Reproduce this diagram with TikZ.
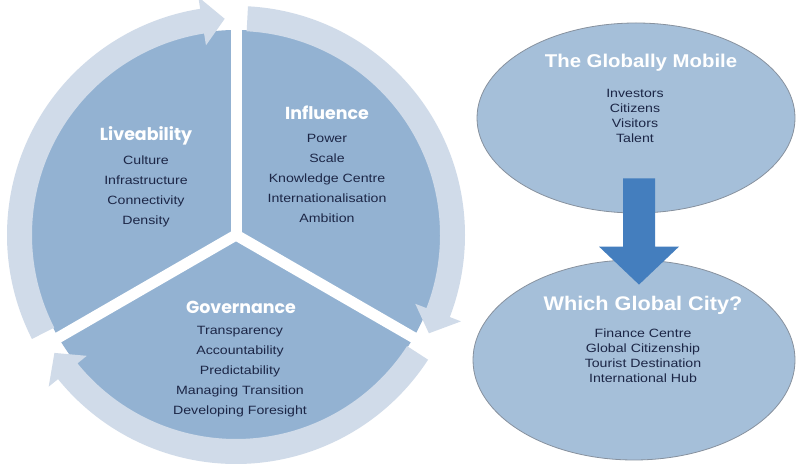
\documentclass[tikz,border=0pt]{standalone}
\usepackage{fontspec}
\usetikzlibrary{calc,shapes.geometric}
\newfontfamily\itemfont{Liberation Sans}[FakeStretch=1.18]
\newfontfamily\headfont{Liberation Sans}[FakeStretch=1.1]
\newfontfamily\titlefont{Poppins}
\definecolor{piec}{RGB}{147,178,210}
\definecolor{ringc}{RGB}{208,219,233}
\definecolor{ellc}{RGB}{165,191,217}
\definecolor{ellline}{RGB}{135,145,158}
\definecolor{arrc}{RGB}{68,126,190}
\definecolor{txtc}{RGB}{28,38,70}
\newcommand\ringpiece[2]{% #1 start angle, #2 tip angle
  \pgfmathsetmacro\myrb{#2+6}
  \fill[ringarrow] ($(C)+(#1:229pt)$) arc[start angle=#1, end angle=\myrb, radius=229pt]
    -- ($(C)+(\myrb:241pt)$) -- ($(C)+(#2:216.5pt)$) -- ($(C)+(\myrb:192pt)$)
    -- ($(C)+(\myrb:204pt)$) arc[start angle=\myrb, end angle=#1, radius=204pt] -- cycle;}
\begin{document}
\begin{tikzpicture}[x=1pt,y=1pt,
  pietitle/.style={text=white, font=\titlefont\bfseries\fontsize{17.4}{19}\selectfont, inner sep=0pt},
  pieitems/.style={text=txtc, align=center, font=\itemfont\fontsize{12}{20}\selectfont, inner sep=0pt},
  elltitle/.style={text=white, font=\headfont\bfseries\fontsize{#1}{22}\selectfont, inner sep=0pt},
  ellitems/.style={text=txtc, align=center, font=\itemfont\fontsize{12}{15}\selectfont, inner sep=0pt},
  blob/.style={ellipse, fill=ellc, draw=ellline, line width=0.8pt, inner sep=0pt},
  ringarrow/.style={fill=ringc},
  gapline/.style={draw=white, line width=11pt}]
\useasboundingbox (0,0) rectangle (797,468);
\fill[white] (0,0) rectangle (797,468);
% cycle pie
\coordinate (C) at (236,233);
\fill[piec] (C) circle[radius=205pt];
\draw[gapline] (C) -- ($(C)+(90:207pt)$);
\draw[gapline] (C) -- ($(C)+(-30:207pt)$);
\draw[gapline] (C) -- ($(C)+(210:207pt)$);
\ringpiece{207}{93}
\ringpiece{87}{-27}
\ringpiece{-33}{-147}
\node[pietitle] (livt) at (146,332) {Liveability};
\node[pieitems] (livi) at (146,277) {Culture\\Infrastructure\\Connectivity\\Density};
\node[pietitle] (inft) at (327,355) {Influence};
\node[pieitems] (infi) at (327,290) {Power\\Scale\\Knowledge Centre\\Internationalisation\\Ambition};
\node[pietitle] (govt) at (241,161) {Governance};
\node[pieitems] (govi) at (240,96) {Transparency\\Accountability\\Predictability\\Managing Transition\\Developing Foresight};
% right side
\node[blob, minimum width=318pt, minimum height=190pt] (gm) at (636,350) {};
\node[blob, minimum width=322pt, minimum height=200pt] (wc) at (634,108) {};
\path ($(gm.south)+(3,35)$) coordinate (atop) ($(wc.north)+(5,-25)$) coordinate (atip);
\fill[arrc] ($(atop)+(-16,0)$) -- ($(atop)+(16,0)$) -- ($(atip)+(16,38)$) -- ($(atip)+(40,38)$)
  -- (atip) -- ($(atip)+(-40,38)$) -- ($(atip)+(-16,38)$) -- cycle;
\node[elltitle=18.5] (gmt) at (641,405) {The Globally Mobile};
\node[ellitems] (gmi) at (635,352.5) {Investors\\Citizens\\Visitors\\Talent};
\node[elltitle=19.7] (wct) at (643,163) {Which Global City?};
\node[ellitems] (wci) at (643,112.5) {Finance Centre\\Global Citizenship\\Tourist Destination\\International Hub};
\end{tikzpicture}
\end{document}
